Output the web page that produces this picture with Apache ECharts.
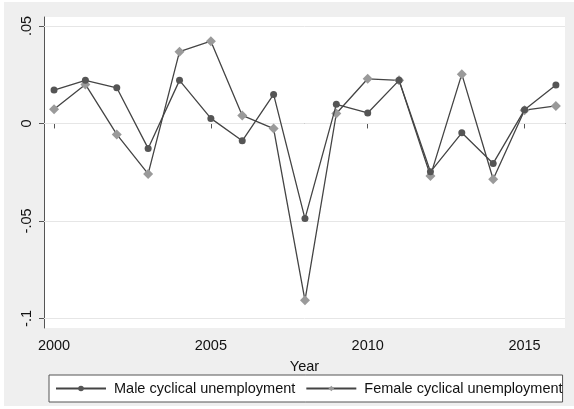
<!DOCTYPE html>
<html>
<head>
<meta charset="utf-8">
<script src="https://cdn.jsdelivr.net/npm/echarts@6/dist/echarts.min.js"></script>
<style>
html,body{margin:0;padding:0;background:#fff;}
#c{width:574px;height:409px;}
</style>
</head>
<body>
<div id="c"></div>
<script>
var years = [2000,2001,2002,2003,2004,2005,2006,2007,2008,2009,2010,2011,2012,2013,2014,2015,2016];
var male = [0.0171,0.0221,0.0183,-0.0128,0.0221,0.0026,-0.0089,0.0149,-0.0488,0.0098,0.0054,0.0221,-0.0248,-0.0048,-0.0205,0.0070,0.0197];
var female = [0.0073,0.0200,-0.0056,-0.0259,0.0368,0.0422,0.0041,-0.0026,-0.0907,0.0051,0.0229,0.0221,-0.0269,0.0253,-0.0286,0.0068,0.0090];
var xTicks = [2000,2005,2010,2015];
var yTicks = [-0.1,-0.05,0,0.05];
var yTickLabels = ['-.1','-.05','0','.05'];

var chart = echarts.init(document.getElementById('c'));
function pairs(v){ return years.map(function(y,i){ return [y, v[i]]; }); }
var font = 'Liberation Sans, Arial, sans-serif';
var fs = 14.5;
chart.setOption({
  animation:false,
  graphic:[{type:'rect', z:-10, shape:{x:4,y:2,width:570,height:404}, style:{fill:'#efefef'}}],
  grid:{left:44, top:17, right:9, bottom:81, show:true, backgroundColor:'#fff', borderWidth:0},
  legend:{
    left:49, top:375, orient:'horizontal',
    backgroundColor:'#fff', borderColor:'#555', borderWidth:1, borderRadius:0,
    padding:[6,0,6,6], itemWidth:50, itemHeight:7, itemGap:10,
    textStyle:{fontFamily:font, fontSize:fs, color:'#111', padding:[0,0,0,3]},
    data:['Male cyclical unemployment','Female cyclical unemployment']
  },
  xAxis:{
    type:'value', min:1999.68, max:2016.29,
    name:'Year', nameLocation:'middle', nameGap:31,
    nameTextStyle:{fontFamily:font, fontSize:fs, color:'#111'},
    axisLine:{show:true, lineStyle:{color:'#555', width:1}},
    axisTick:{show:true, length:5, customValues:xTicks, lineStyle:{color:'#555'}},
    axisLabel:{customValues:xTicks, fontFamily:font, fontSize:fs, color:'#111', margin:10,
      formatter:function(v){ return String(Math.round(v)); }},
    splitLine:{show:false}
  },
  yAxis:{
    type:'value', min:-0.1049, max:0.0546,
    axisLine:{show:true, lineStyle:{color:'#555', width:1}},
    axisTick:{show:true, length:5, customValues:yTicks, lineStyle:{color:'#555'}},
    axisLabel:{customValues:yTicks, rotate:90, fontFamily:font, fontSize:fs, color:'#111', margin:10,
      formatter:function(v){ var i = yTicks.findIndex(function(t){return Math.abs(t-v)<1e-9;}); return i>=0?yTickLabels[i]:''; }},
    splitLine:{show:false}
  },
  series:[
    {name:'Male cyclical unemployment', type:'line', data:pairs(male),
     symbol:'circle', symbolSize:7, showAllSymbol:true,
     itemStyle:{color:'#555'}, lineStyle:{color:'#444', width:1.3}, z:3,
     markLine:{silent:true, symbol:'none', label:{show:false}, animation:false,
       lineStyle:{color:'#e6e6e6', type:'solid', width:1}, z:1,
       data:yTicks.map(function(t){return {yAxis:t};})}
    },
    {name:'Female cyclical unemployment', type:'line', data:pairs(female),
     symbol:'diamond', symbolSize:10, showAllSymbol:true,
     itemStyle:{color:'#9a9a9a'}, lineStyle:{color:'#444', width:1.3}, z:2}
  ]
});
</script>
</body>
</html>
